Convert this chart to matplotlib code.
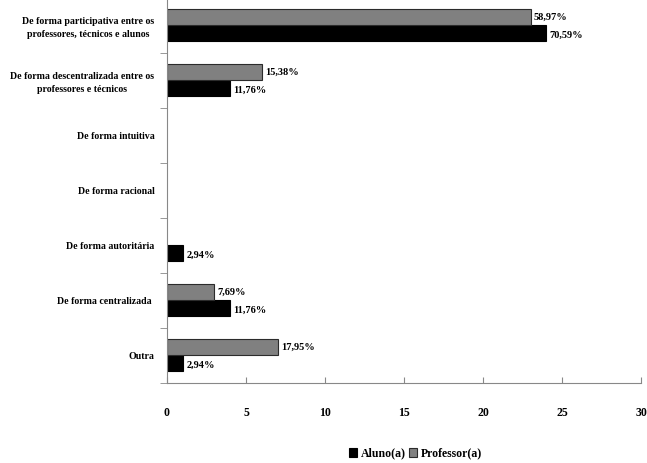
import matplotlib
matplotlib.use("Agg")
import matplotlib.pyplot as plt
import numpy as np

plt.rcParams["font.family"] = ["Liberation Serif", "DejaVu Serif"]
plt.rcParams["font.weight"] = "bold"

# categorias (de cima para baixo)
CATEGORIAS = [
    "De forma participativa entre os\nprofessores, técnicos e alunos",
    "De forma descentralizada entre os\nprofessores e técnicos",
    "De forma intuitiva",
    "De forma racional",
    "De forma autoritária",
    "De forma centralizada ",
    "Outra",
]
ALUNO = [24, 4, 0, 0, 1, 4, 1]
PROFESSOR = [23, 6, 0, 0, 0, 3, 7]
ALUNO_PCT = ["70,59%", "11,76%", "", "", "2,94%", "11,76%", "2,94%"]
PROFESSOR_PCT = ["58,97%", "15,38%", "", "", "", "7,69%", "17,95%"]

fig = plt.figure(figsize=(6.47, 4.63), dpi=100)
ax = fig.add_axes([0.258, 0.173, 0.733, 0.832])

y = np.arange(len(CATEGORIAS))
h = 0.29
b_al = ax.barh(y + h / 2, ALUNO, height=h, color="black", edgecolor="black",
               linewidth=0.8, label="Aluno(a)")
b_pr = ax.barh(y - h / 2, PROFESSOR, height=h, color="#808080", edgecolor="#2b2b2b",
               linewidth=0.8, label="Professor(a)")
for bars in (b_al, b_pr):
    for bar in bars:
        if bar.get_width() == 0:
            bar.set_visible(False)

for bars, labels, dy in ((b_pr, PROFESSOR_PCT, 0.0), (b_al, ALUNO_PCT, 0.03)):
    for bar, lab in zip(bars, labels):
        if not lab:
            continue
        ax.annotate(lab, (bar.get_width(), bar.get_y() + bar.get_height() / 2 + dy),
                    xytext=(2.5, 0), textcoords="offset points",
                    ha="left", va="center", fontsize=7.5, fontweight="bold")

ax.set_xlim(0, 30)
ax.set_ylim(len(CATEGORIAS) - 0.5, -0.5)
ax.set_xticks(range(0, 31, 5))
ax.set_yticks(y)
ax.set_yticklabels(CATEGORIAS, fontsize=7.1, fontweight="bold", multialignment="center",
                   linespacing=1.5)
ax.set_yticks(np.arange(-0.5, len(CATEGORIAS), 1), minor=True)
ax.tick_params(axis="y", which="major", length=0, pad=9)
ax.tick_params(axis="y", which="minor", length=5, direction="out", color="#888888")
ax.tick_params(axis="x", length=4, direction="in", pad=17, color="#888888", labelsize=8.5)
for t in ax.get_xticklabels():
    t.set_fontweight("bold")

for s in ("top", "right"):
    ax.spines[s].set_visible(False)
for s in ("left", "bottom"):
    ax.spines[s].set_color("#888888")
    ax.spines[s].set_linewidth(0.8)

fig.legend(handles=[b_al, b_pr], loc="center", bbox_to_anchor=(0.642, 0.02),
           ncol=2, frameon=False, handlelength=0.7, handleheight=0.7,
           handletextpad=0.3, columnspacing=0.3, prop={"weight": "bold", "size": 8.5})

fig.savefig("out.png", dpi=100)
